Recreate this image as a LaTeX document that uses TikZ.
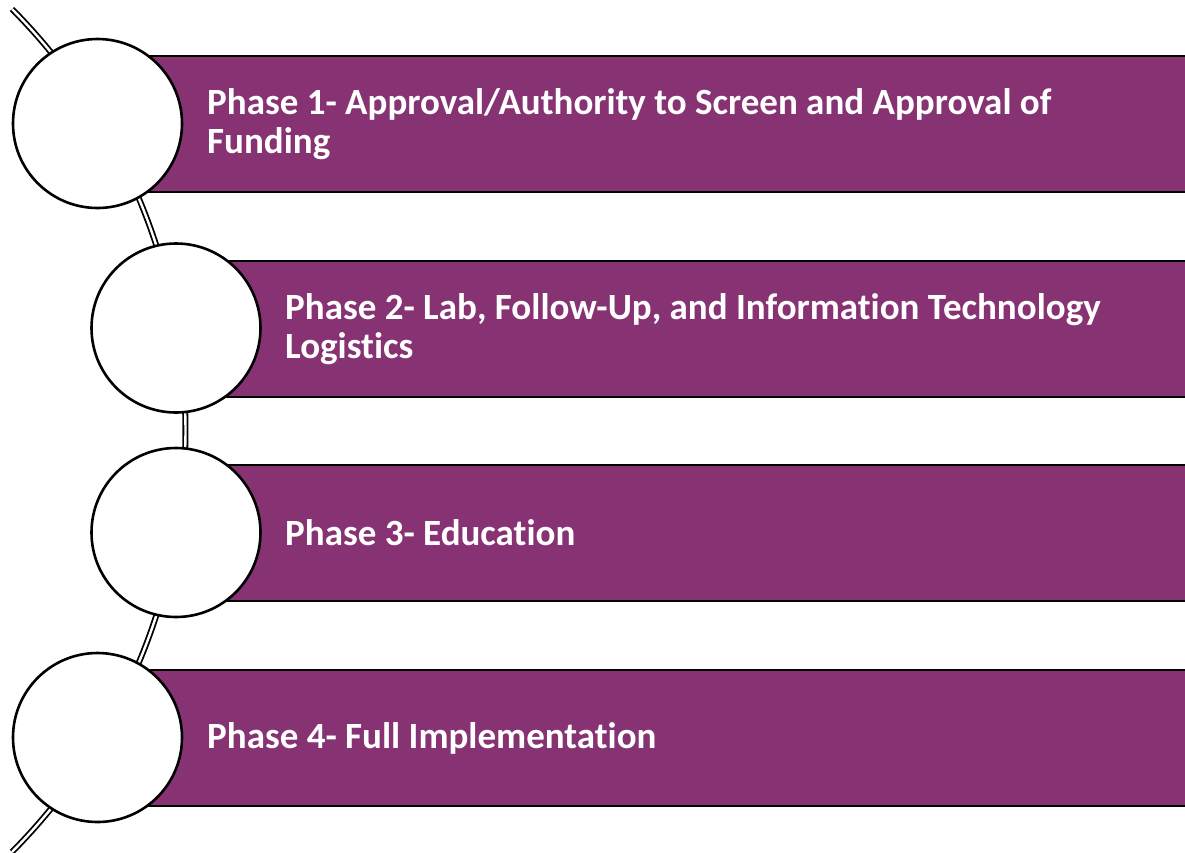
\documentclass[tikz,border=0pt]{standalone}
\usepackage{fontspec}
\setmainfont{Carlito}[Ligatures=NoCommon]
\definecolor{phasepurple}{RGB}{134,50,115}
\begin{document}
\begin{tikzpicture}[x=1pt,y=-1pt,
  phasebar/.style={draw=black,line width=2.2pt,fill=phasepurple,rectangle,
    anchor=west,minimum width=1150pt,minimum height=136pt,inner sep=0pt},
  phasedot/.style={draw=black,line width=2.6pt,fill=white,circle,
    minimum size=169pt,inner sep=0pt},
  phasetext/.style={anchor=west,align=left,text=white,inner sep=0pt,
    font=\fontsize{37}{39}\selectfont\bfseries},
  spine/.style={double=white,draw=black,line width=1.8pt,double distance=2.4pt}]
\useasboundingbox (0,0) rectangle (1185,852);
% curved spine behind the circles
\coordinate (spinetop) at (12,9);
\draw[spine] (spinetop) arc[start angle=-44.75,end angle=44.75,radius=598.7];
% bars
\node[phasebar] (bar1) at (97,124) {};
\node[phasebar] (bar2) at (176,329) {};
\node[phasebar] (bar3) at (176,533) {};
\node[phasebar] (bar4) at (97,738) {};
% circles
\node[phasedot] (dot1) at (97.5,123.5) {};
\node[phasedot] (dot2) at (176,328) {};
\node[phasedot] (dot3) at (176,532.5) {};
\node[phasedot] (dot4) at (97.5,737.5) {};
% labels
\node[phasetext] (txt1) at (207,124) {Phase 1- Approval/Authority to Screen and Approval of\\Funding};
\node[phasetext] (txt2) at (285,329) {Phase 2- Lab, Follow-Up, and Information Technology\\Logistics};
\node[phasetext] (txt3) at (285,533) {Phase 3- Education};
\node[phasetext] (txt4) at (207,738) {Phase 4- Full Implementation};
\end{tikzpicture}
\end{document}
